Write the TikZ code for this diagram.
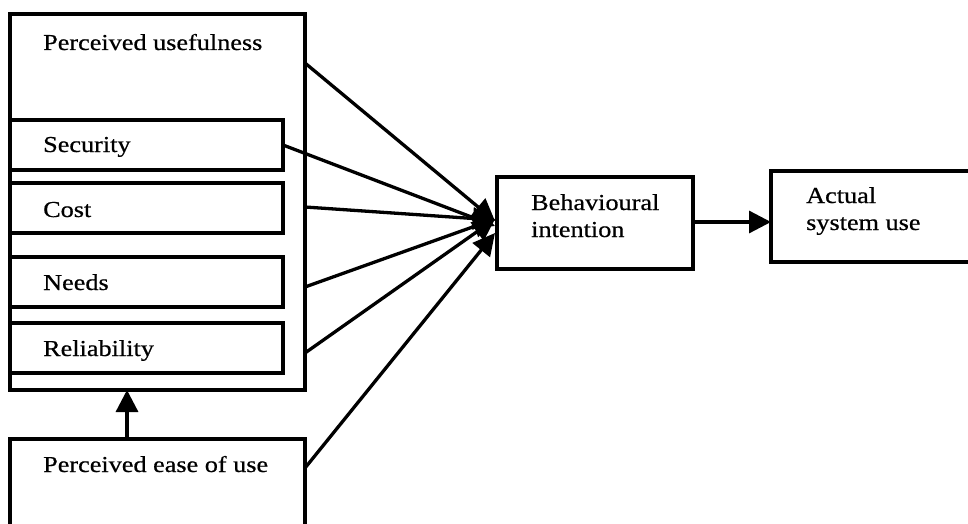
\documentclass[tikz,border=0pt]{standalone}
\usepackage{fontspec}
\setmainfont{Liberation Serif}[FakeStretch=1.15,FakeBold=0.6]
\usetikzlibrary{arrows.meta}
\begin{document}
\begin{tikzpicture}[x=1pt,y=-1pt,
  box/.style={draw, line width=3.3pt, inner sep=0pt, outer sep=0pt, anchor=north west, rectangle},
  lbl/.style={anchor=base west, inner sep=0pt, font=\fontsize{22.8}{27}\selectfont},
  arr/.style={line width=3.3pt, -{Triangle[length=22pt,width=22pt]}}]
\useasboundingbox (0,0) rectangle (968,524);
\fill[white] (0,0) rectangle (968,524);

% boxes
\node[box, minimum width=295pt, minimum height=376pt] (pu) at (10,14) {};
\node[box, minimum width=273pt, minimum height=50pt] (sec) at (10,120) {};
\node[box, minimum width=273pt, minimum height=50pt] (cost) at (10,183) {};
\node[box, minimum width=273pt, minimum height=50pt] (needs) at (10,257) {};
\node[box, minimum width=273pt, minimum height=50pt] (rel) at (10,323) {};
\node[box, minimum width=295pt, minimum height=110pt] (peou) at (10,439) {};
\node[box, minimum width=196pt, minimum height=92pt] (bi) at (497,177) {};
\node[box, minimum width=215pt, minimum height=91pt] (asu) at (771,171) {};

% labels
\node[lbl] (tpu) at (43,50) {Perceived usefulness};
\node[lbl] (tsec) at (43,152) {Security};
\node[lbl] (tcost) at (43,217) {Cost};
\node[lbl] (tneeds) at (43,290) {Needs};
\node[lbl] (trel) at (43,356) {Reliability};
\node[lbl] (tpeou) at (43,472) {Perceived ease of use};
\node[lbl] (tbi1) at (531,210) {Behavioural};
\node[lbl] (tbi2) at (531,237) {intention};
\node[lbl] (tasu1) at (806,203) {Actual};
\node[lbl] (tasu2) at (806,230) {system use};

% connector end points
\coordinate (s1) at (305,63);
\coordinate (s3) at (305,207);
\coordinate (s4) at (305,287);
\coordinate (s5) at (305,353);
\coordinate (s6) at (305,468);
\coordinate (e1) at (495,221);
\coordinate (e2) at (495,226);
\coordinate (e3) at (495,220);
\coordinate (e4) at (495,219);
\coordinate (e5) at (495,219);
\coordinate (e6) at (495,233);
\coordinate (up0) at (127,439);
\coordinate (up1) at (127,390);

\draw[arr] (s1) -- (e1);
\draw[arr] (sec.east) -- (e2);
\draw[arr] (s3) -- (e3);
\draw[arr] (s4) -- (e4);
\draw[arr] (s5) -- (e5);
\draw[arr] (s6) -- (e6);
\draw[arr] (up0) -- (up1);
\draw[arr] (bi.east |- 0,222) -- (asu.west |- 0,222);
\end{tikzpicture}
\end{document}
